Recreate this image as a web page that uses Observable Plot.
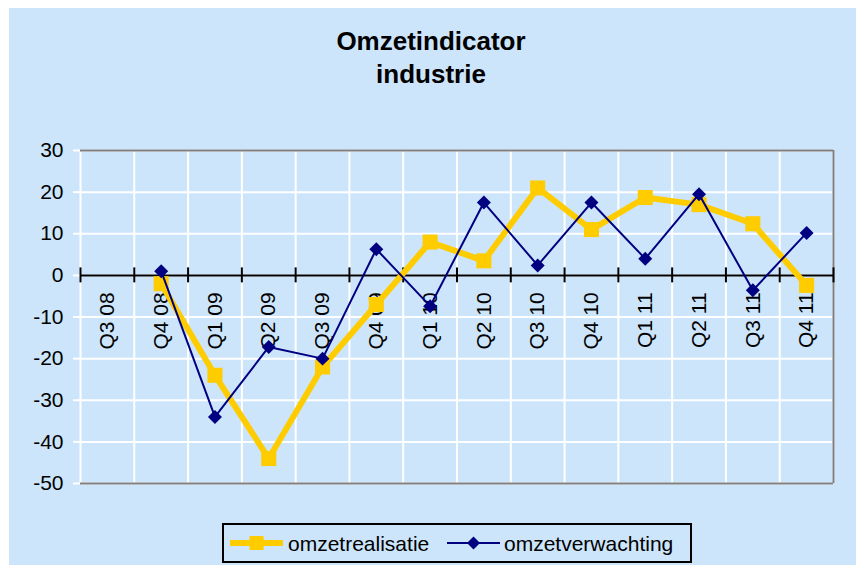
<!DOCTYPE html>
<html><head><meta charset="utf-8">
<script src="https://cdn.jsdelivr.net/npm/d3@7"></script>
<script src="https://cdn.jsdelivr.net/npm/@observablehq/plot@0.6"></script>
<style>
body{margin:0;background:#fff;font-family:"Liberation Sans",Arial,sans-serif;}
#wrap{position:relative;width:856px;height:565px;overflow:hidden;}
#bg{position:absolute;left:9px;top:8px;width:847px;height:557px;background:#cce5fb;}
#title{position:absolute;left:6px;width:850px;top:25px;text-align:center;font-weight:bold;font-size:26px;line-height:33px;color:#000;}
#chart{position:absolute;left:0;top:0;}
#legend{position:absolute;left:222px;top:523px;width:470px;height:40px;border:2px solid #000;box-sizing:border-box;background:#cce5fb;}
#legend .sw{position:absolute;top:0;}
#legend .lt{position:absolute;top:7px;font-size:21px;line-height:24px;color:#000;white-space:nowrap;}
</style>
</head><body>
<div id="wrap">
  <div id="bg"></div>
  <div id="title">Omzetindicator<br>industrie</div>
  <div id="chart"></div>
  <div id="legend">
    <svg class="sw" style="left:4px" width="57" height="36"><line x1="2" x2="55" y1="18" y2="18" stroke="#ffcc00" stroke-width="6"/><rect x="21.5" y="11" width="14" height="14" fill="#ffcc00"/></svg>
    <span class="lt" style="left:64px">omzetrealisatie</span>
    <svg class="sw" style="left:221px" width="57" height="36"><line x1="2" x2="55" y1="18" y2="18" stroke="#000080" stroke-width="2"/><path d="M28.5,11.5L35,18L28.5,24.5L22,18Z" fill="#000080"/></svg>
    <span class="lt" style="left:280px">omzetverwachting</span>
  </div>
</div>
<script>
const quarters = ["Q3 08","Q4 08","Q1 09","Q2 09","Q3 09","Q4 09","Q1 10","Q2 10","Q3 10","Q4 10","Q1 11","Q2 11","Q3 11","Q4 11"];
const omzetrealisatie = [null,-2,-24,-44,-22,-7,8,3.5,21,11,18.7,17,12.4,-2.4];
const omzetverwachting = [null,1,-34,-17.2,-20,6.3,-7.4,17.5,2.4,17.5,4,19.5,-3.6,10.2];
const yTicks = [30,20,10,0,-10,-20,-30,-40,-50];

const data = quarters.map((q,i)=>({i, q, r: omzetrealisatie[i], v: omzetverwachting[i]}));
const bounds = d3.range(quarters.length + 1);
const xc = d => d.i + 0.5;

const chart = Plot.plot({
  width: 856, height: 565,
  marginLeft: 80, marginRight: 23, marginTop: 150, marginBottom: 82,
  x: {domain: [0, quarters.length], axis: null},
  y: {domain: [-50, 30], axis: null},
  style: {background: "transparent", fontFamily: "'Liberation Sans', Arial, sans-serif", color: "black"},
  marks: [
    Plot.gridY(yTicks, {stroke: "white", strokeOpacity: 1, strokeWidth: 2}),
    Plot.ruleX(bounds, {y1: -50, y2: 30, stroke: "white", strokeWidth: 2}),
    Plot.ruleY([30, -50], {stroke: "#808080", strokeWidth: 2}),
    Plot.ruleX([quarters.length], {y1: -50, y2: 30, stroke: "#808080", strokeWidth: 2}),
    Plot.axisY(yTicks, {tickSize: 7, tickPadding: 10, stroke: "white", strokeWidth: 2, fill: "black", fontSize: 21, tickFormat: d => String(d), label: null}),
    Plot.text(data, {x: xc, y: () => 0, text: "q", rotate: -90, textAnchor: "end", lineAnchor: "middle", dy: 17, fontSize: 21, fill: "black"}),
    Plot.ruleY([0], {stroke: "black", strokeWidth: 2}),
    Plot.ruleX(bounds, {y1: -1.8, y2: 1.8, stroke: "black", strokeWidth: 2}),
    Plot.line(data, {x: xc, y: "r", stroke: "#ffcc00", strokeWidth: 6}),
    Plot.dot(data, {x: xc, y: "r", symbol: "square", r: 8.5, fill: "#ffcc00", stroke: "none"}),
    Plot.line(data, {x: xc, y: "v", stroke: "#000080", strokeWidth: 2}),
    Plot.dot(data, {x: xc, y: "v", symbol: "diamond2", r: 6.3, fill: "#000080", stroke: "none"})
  ]
});
document.getElementById("chart").appendChild(chart);
</script>
</body></html>
